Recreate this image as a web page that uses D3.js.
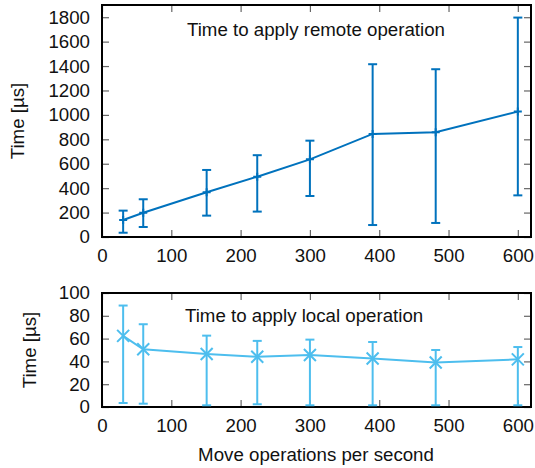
<!DOCTYPE html>
<html>
<head>
<meta charset="utf-8">
<script src="https://cdn.jsdelivr.net/npm/d3@7"></script>
<style>
  body { margin: 0; background: #fff; }
  svg { display: block; font-family: "Liberation Sans", Arial, sans-serif; }
</style>
</head>
<body>
<svg id="grafico" width="535" height="468"></svg>
<script>
// datos
var tasas = [30.5, 59.5, 151, 224, 300, 390.5, 481.5, 600];

var remotoMedia = [139, 199, 366, 494, 636, 844, 858, 1027];
var remotoMin   = [35, 82, 175, 208, 336, 98, 115, 341];
var remotoMax   = [216, 309, 549, 670, 789, 1415, 1374, 1797];

var localMedia = [62.4, 50.6, 46.5, 44.1, 45.6, 42.6, 39.1, 41.8];
var localMin   = [3.5, 2.9, 1.5, 2.4, 1.5, 1.5, 1.5, 1.5];
var localMax   = [89, 72.6, 62.6, 58, 59.1, 57, 50, 52.6];

var ticksX = [0, 100, 200, 300, 400, 500, 600];
var ticksRemoto = [0, 200, 400, 600, 800, 1000, 1200, 1400, 1600, 1800];
var ticksLocal = [0, 20, 40, 60, 80, 100];

var fuente = "18.7px";
var svg = d3.select("#grafico");
var izq = 102, der = 531;

var x = d3.scaleLinear().domain([0, 619]).range([izq, der]);

function panel(cfg) {
    var y = d3.scaleLinear().domain(cfg.dominio).range([cfg.abajo, cfg.arriba]);
    var g = svg.append("g");

    //ticks hacia dentro en los cuatro lados
    var ejes = [
        { eje: d3.axisLeft(y).tickValues(cfg.ticksY), t: "translate(" + izq + ",0)", etiquetas: true },
        { eje: d3.axisRight(y).tickValues(cfg.ticksY), t: "translate(" + der + ",0)", etiquetas: false },
        { eje: d3.axisBottom(x).tickValues(ticksX), t: "translate(0," + cfg.abajo + ")", etiquetas: true },
        { eje: d3.axisTop(x).tickValues(ticksX), t: "translate(0," + cfg.arriba + ")", etiquetas: false }
    ];
    ejes.forEach(function (e) {
        var a = g.append("g")
            .attr("transform", e.t)
            .call(e.eje.tickSizeInner(-7).tickSizeOuter(0).tickPadding(e.etiquetas ? 12 : 0));
        a.select(".domain").remove();
        a.selectAll(".tick line").attr("stroke", "#666").attr("stroke-width", 1.2);
        a.selectAll("text")
            .style("font-size", fuente)
            .attr("fill", "#111")
            .text(function (d) { return e.etiquetas ? d : ""; });
    });

    //marco
    g.append("rect")
        .attr("x", izq).attr("y", cfg.arriba)
        .attr("width", der - izq).attr("height", cfg.abajo - cfg.arriba)
        .attr("fill", "none").attr("stroke", "#000").attr("stroke-width", 2);

    //titulo interior
    g.append("text")
        .attr("x", cfg.tituloX).attr("y", cfg.tituloY)
        .style("font-size", fuente).attr("fill", "#111")
        .text(cfg.titulo);

    //etiqueta eje y
    g.append("text")
        .attr("transform", "translate(" + cfg.etiquetaX + "," + (cfg.arriba + cfg.abajo) / 2 + ") rotate(-90)")
        .attr("text-anchor", "middle")
        .attr("dy", "0.35em")
        .style("font-size", fuente).attr("fill", "#111")
        .text("Time [µs]");

    var datos = tasas.map(function (t, i) {
        return { x: t, m: cfg.media[i], lo: cfg.min[i], hi: cfg.max[i] };
    });

    //linea
    g.append("path")
        .datum(datos)
        .attr("fill", "none")
        .attr("stroke", cfg.color)
        .attr("stroke-width", 2)
        .attr("d", d3.line().x(function (d) { return x(d.x); }).y(function (d) { return y(d.m); }));

    //barras de error
    var b = g.selectAll(".barra").data(datos).join("g").attr("class", "barra")
        .attr("stroke", cfg.color).attr("stroke-width", 2);
    b.append("line")
        .attr("x1", function (d) { return x(d.x); }).attr("x2", function (d) { return x(d.x); })
        .attr("y1", function (d) { return y(d.lo); }).attr("y2", function (d) { return y(d.hi); });
    b.append("line")
        .attr("x1", function (d) { return x(d.x) - 4.5; }).attr("x2", function (d) { return x(d.x) + 4.5; })
        .attr("y1", function (d) { return y(d.lo); }).attr("y2", function (d) { return y(d.lo); });
    b.append("line")
        .attr("x1", function (d) { return x(d.x) - 4.5; }).attr("x2", function (d) { return x(d.x) + 4.5; })
        .attr("y1", function (d) { return y(d.hi); }).attr("y2", function (d) { return y(d.hi); });

    //marcadores
    var s = cfg.marca;
    b.append("path")
        .attr("stroke-width", 2)
        .attr("d", function (d) {
            var cx = x(d.x), cy = y(d.m);
            if (cfg.tipo === "x") {
                return "M" + (cx - s) + "," + (cy - s) + "L" + (cx + s) + "," + (cy + s) +
                    "M" + (cx - s) + "," + (cy + s) + "L" + (cx + s) + "," + (cy - s);
            }
            return "M" + (cx - s) + "," + cy + "L" + (cx + s) + "," + cy +
                "M" + cx + "," + (cy - s) + "L" + cx + "," + (cy + s);
        });
}

panel({
    dominio: [0, 1900], arriba: 5, abajo: 237, ticksY: ticksRemoto,
    media: remotoMedia, min: remotoMin, max: remotoMax,
    color: "#0072bd", tipo: "+", marca: 4,
    titulo: "Time to apply remote operation", tituloX: 187, tituloY: 36,
    etiquetaX: 17
});

panel({
    dominio: [0, 100], arriba: 293, abajo: 407, ticksY: ticksLocal,
    media: localMedia, min: localMin, max: localMax,
    color: "#4dbeee", tipo: "x", marca: 6,
    titulo: "Time to apply local operation", tituloX: 185, tituloY: 322,
    etiquetaX: 29
});

//etiqueta eje x
svg.append("text")
    .attr("x", (izq + der) / 2 - 0.5).attr("y", 461)
    .attr("text-anchor", "middle")
    .style("font-size", fuente).attr("fill", "#111")
    .text("Move operations per second");
</script>
</body>
</html>
